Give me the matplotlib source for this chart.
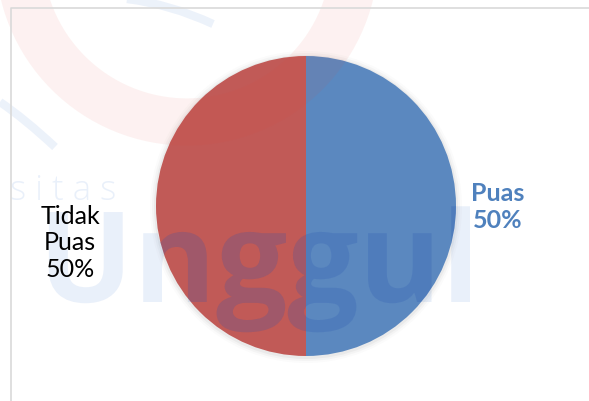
import matplotlib
matplotlib.use("Agg")
import matplotlib.pyplot as plt
from matplotlib.patches import Circle, PathPatch
from matplotlib.path import Path
from matplotlib.textpath import TextPath
from matplotlib.font_manager import FontProperties
from matplotlib.transforms import Affine2D

# data
labels = ["Puas", "Tidak Puas"]
values = [50, 50]
colors = ["#5B88BF", "#C15A57"]
label_colors = ["#4F81BD", "#000000"]

W, H = 589, 402
fig = plt.figure(figsize=(W / 100, H / 100), dpi=100)
ax = fig.add_axes([0, 0, 1, 1])

# pie, pixel coords (y flipped so origin is bottom-left)
cx, cy, r = 306, H - 207, 150

# soft shadow behind the pie
for k, a in [(6, 0.03), (4, 0.05), (2, 0.08)]:
    ax.add_patch(Circle((cx, cy - 1), r + k, color="#808080", alpha=a, lw=0, zorder=0.5))

wedges, _ = ax.pie(values, colors=colors, startangle=90, counterclock=False,
                   center=(cx, cy), radius=r, wedgeprops=dict(linewidth=0))
ax.set_xlim(0, W)
ax.set_ylim(0, H)
ax.set_aspect("equal")
ax.axis("off")

# faint watermark in the background
ax.add_patch(Circle((187, H + 45), 168, fill=False, lw=34, color="#E8463A", alpha=0.07, zorder=2))
for verts in [[(127, H), (170, H - 5), (213, H - 25)],
              [(0, H - 103), (25, H - 120), (55, H - 148)]]:
    ax.add_patch(PathPatch(Path(verts, [Path.MOVETO, Path.CURVE3, Path.CURVE3]),
                           fill=False, lw=6, color="#2F6FD0", alpha=0.09, zorder=2))

fp = FontProperties(family="Open Sans", weight="bold")
tp = TextPath((0, 0), "Unggul", size=126, prop=fp)
ext = tp.get_extents()
tp = Affine2D().translate(470 - ext.x1, H - 303).transform_path(tp)
ax.add_patch(PathPatch(tp, lw=0, color="#2F6FD0", alpha=0.1, zorder=2))
dark = PathPatch(tp, lw=0, color="#1F3F9F", alpha=0.12, zorder=2.1)
ax.add_patch(dark)
dark.set_clip_path(Circle((cx, cy), r, transform=ax.transData))

ax.text(10, H - 200, "s i t a s", ha="left", va="baseline", fontsize=25,
        family="Open Sans", weight="light", color="#2F6FD0", alpha=0.1, zorder=2)

# chart border
ax.plot([10.5, 10.5, W], [0, H - 8.5, H - 8.5], color="#D9D9D9", lw=1.2, zorder=2)

# data labels
label_pos = [(498, H - 207), (70, H - 243)]
for lab, v, c, (x, y) in zip(labels, values, label_colors, label_pos):
    txt = lab.replace(" ", "\n") + "\n" + f"{v}%"
    ax.text(x, y, txt, ha="center", va="center", fontsize=18, family="Lato",
            color=c, weight="bold" if c != "#000000" else "normal",
            linespacing=1.2, zorder=3)

fig.savefig("out.png", dpi=100)
